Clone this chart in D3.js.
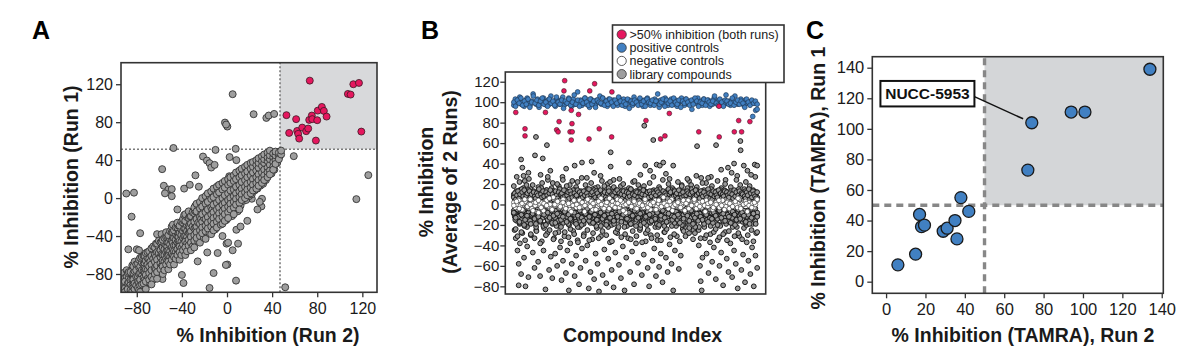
<!DOCTYPE html>
<html>
<head>
<meta charset="utf-8">
<script src="https://cdn.jsdelivr.net/npm/d3@7"></script>
<style>
body { margin: 0; background: #fff; }
svg { display: block; font-family: Arial, "Liberation Sans", Helvetica, sans-serif; }
</style>
</head>
<body>
<svg id="fig" width="1200" height="354"></svg>
<script>
// ---------- panel A: run 1 vs run 2 ----------
const aTicks = [-80, -40, 0, 40, 80, 120];
const aCutX = 47, aCutY = 51.5;
const aHits = [[52.7,87.4],[73.4,123.8],[61.3,83.2],[55.1,68.7],[62.2,70.8],[63.1,67.7],[64,62.7],[66.7,74.3],
  [70.2,70.5],[72,73.3],[72.9,82.4],[75.2,87],[75.6,83.2],[78.8,60.6],[80,82.1],[80.5,92.2],[84.1,96.1],
  [85.9,91.9],[88.3,85.9],[107.2,109.8],[109.6,109.1],[112,120],[117,121.4],[119.1,70.1]];
// dense diagonal cloud, one column per entry: [run2, run1 values...]
const aBand = [
  [-92,-86,-95,-79],[-89,-91,-83,-97,-76],[-87,-84,-89,-94,-78],[-84,-80,-93,-86,-71,-98],
  [-82,-85,-77,-90,-67,-96],[-79,-74,-83,-88,-69,-95],[-77,-79,-72,-86,-63,-92,-99],[-74,-70,-77,-84,-61,-90],
  [-72,-75,-66,-81,-58,-88,-96],[-69,-64,-72,-79,-56,-86],[-67,-70,-61,-76,-53,-83,-91],[-64,-60,-67,-74,-52,-80],
  [-62,-65,-57,-71,-48,-78,-85],[-59,-55,-62,-69,-47,-75],[-57,-60,-52,-66,-44,-72,-80],[-54,-50,-57,-64,-41,-70,-36],
  [-52,-55,-47,-61,-39,-67,-75],[-49,-45,-52,-59,-36,-65,-30],[-47,-50,-42,-56,-34,-62,-70],[-44,-40,-47,-54,-31,-60,-26],
  [-42,-45,-37,-51,-29,-57,-65],[-39,-35,-42,-49,-26,-55,-22],[-37,-40,-32,-46,-24,-52,-60,-17],[-34,-30,-37,-44,-21,-50,-14],
  [-32,-35,-27,-41,-19,-47,-55],[-29,-25,-32,-39,-16,-45,-10,-52],[-27,-30,-22,-36,-14,-42,-6],[-24,-20,-27,-34,-11,-40,-47,-4],
  [-22,-25,-17,-31,-9,-37,0],[-19,-15,-22,-29,-6,-35,-43,2],[-17,-20,-12,-26,-4,-32,5],[-14,-10,-17,-24,-1,-30,-38,7],
  [-12,-15,-7,-21,1,-27,10,-34],[-9,-5,-12,-19,4,-25,-31,12],[-7,-10,-2,-16,6,-22,14],[-4,0,-7,-14,9,-20,-27,16],
  [-2,-5,3,-11,11,-17,18,-24],[1,5,-2,-9,14,-15,-21,20],[3,0,8,-6,16,-12,22],[6,9,2,-4,18,-10,24,-17],
  [8,5,12,-1,20,-7,27],[11,14,7,1,22,-5,29,-12],[13,10,17,4,24,-2,31],[16,19,12,6,26,0,33],
  [18,15,22,9,28,3,35],[21,24,17,11,31,5,37],[23,20,27,14,33,8,38],[26,29,22,16,35,10,40],
  [28,25,32,19,37,13,42],[31,34,27,21,39,16,44],[33,30,37,24,41,19,46],[36,39,32,27,43,22,48],
  [38,35,41,29,45,25,50],[41,43,38,33,47,30],[43,40,45,36,49],[46,44,48,41],[48,46,50]
];
const aBand2 = [
  [-93,-97,-88,-91],[-90.5,-84,-95,-99,-88],[-88,-90,-79,-96],[-85.5,-91,-78,-86,-97],[-83,-79,-94,-86,-72],
  [-80.5,-83,-70,-92,-76],[-78,-73,-89,-80,-65,-97],[-75.5,-82,-68,-76,-91,-62],[-73,-69,-79,-86,-61,-74],
  [-70.5,-76,-63,-85,-70,-57],[-68,-61,-74,-81,-67,-90],[-65.5,-70,-57,-78,-64,-51,-86],[-63,-56,-68,-62,-75,-48],
  [-60.5,-64,-52,-71,-58,-80,-45],[-58,-53,-65,-59,-72,-46,-38],[-55.5,-60,-48,-67,-54,-42,-76],[-53,-47,-61,-55,-66,-40,-51],
  [-50.5,-56,-43,-62,-49,-35,-70],[-48,-42,-54,-47,-61,-36,-28],[-45.5,-50,-38,-57,-44,-31,-64],[-43,-37,-51,-45,-58,-29,-41],
  [-40.5,-46,-33,-53,-39,-25,-60],[-38,-32,-47,-40,-54,-24,-18],[-35.5,-41,-29,-48,-35,-20,-56],[-33,-27,-42,-36,-49,-19,-31],
  [-30.5,-37,-24,-44,-30,-15,-51],[-28,-22,-38,-31,-45,-14,-8],[-25.5,-32,-19,-39,-26,-11,-46],[-23,-17,-33,-27,-40,-9,-22],
  [-20.5,-28,-14,-35,-21,-6,-42],[-18,-12,-28,-22,-36,-4,3],[-15.5,-23,-9,-30,-17,-1,-37],[-13,-7,-24,-18,-31,1,-12],
  [-10.5,-19,-4,-26,-12,4,-33],[-8,-2,-19,-13,-27,7,13],[-5.5,-14,1,-21,-8,9,-28],[-3,3,-15,-9,-22,12,-4],
  [-0.5,-9,6,-17,-3,14,-23],[2,8,-10,-4,-18,17,23],[4.5,-4,11,-12,2,19,-19],[7,13,-5,1,-13,21,6],
  [9.5,1,16,-8,7,24,-14],[12,18,0,6,-8,26,11],[14.5,6,21,-3,12,28],[17,23,5,11,-2,30,16],
  [19.5,11,26,2,17,33],[22,28,10,16,4,35,21],[24.5,16,31,8,22,37],[27,33,15,21,10,39,26],
  [29.5,21,36,13,27,41],[32,37,20,26,15,43,31],[34.5,26,40,19,32,45],[37,42,25,31,46,36],
  [39.5,31,44,26,38,48],[42,46,30,36,41],[44.5,37,48,42],[46.5,44,49]
];
const aScatter = [[5,109.5],[23.6,88.4],[34.9,84.5],[37,87],[41.8,88.7],[-1.8,79.6],[0.3,75.4],[-0.8,77.5],
  [-47.5,52.8],[-10.2,50.8],[7.7,51.9],[59.2,44.2],[125.3,24.2],[114.7,-1.1],[-89.3,4.8],[-82.5,5.7],
  [-84.6,-19.6],[-77,-37],[-87.5,-54],[-80,-54],[-78,-55],[-89.8,-84.3],[-57.5,30.5],[-21.3,43.8],
  [-17.8,39.6],[-15.5,36.8],[-14,32.2],[-11,35],[2.3,43.2],[8.3,40],[-56,13],[-52,9],[-49,9.5],
  [-49,2],[-55,5],[22,-0.7],[31,-0.7],[30.5,-8.8],[29,-4],[-17.5,-57.3],[-8.3,-57.9],[-26,-66.7],
  [-11.9,-79],[0.3,-70],[-1,-70.5],[8,-87],[-15.5,-94.7],[-40,-81],[-38.6,-89.5],[-57.2,-85.3],
  [51.6,-94],[8.3,-33.4],[9.8,-48],[-0.4,-48],[1,-47],[-44,-12],[-38,10],[-33,14],[18,-24],[12,-30],
  [-4,-40],[-62,-38],[-25,12],[5,-55],[27,-12],[14,30],[-28,24]];

// ---------- panel B: compound index ----------
const bTicks = [-80, -60, -40, -20, 0, 20, 40, 60, 80, 100, 120];
const bLegend = [">50% inhibition (both runs)", "positive controls", "negative controls", "library compounds"];
const bPositive = [97,103,99,101,105,98,100,96,102,104,99,97,101,108,100,98,103,95,101,99,104,100,97,102,98,106,
  99,101,96,103,100,98,102,105,97,100,99,104,101,96,103,98,100,110,99,102,97,101,104,98,100,95,103,99,101,97,
  102,100,106,98,104,99,101,96,103,100,98,102,99,101,97,104,100,98,103,96,101,99,102,100,97,105,99,101,98,103,
  100,96,102,99,104,101,97,100,98,103,99,101,95,102,100,98,104,99,97,101,103,100,98,102,96,99,101,104,100,97,
  103,99,98,101,93,102,100,99,104,98,101,97,103,100,99,102,96,101,98,104,100,99,102,97,101,100,98,107,99,101,
  97,102,100,106,99,98,101,103,100,97,102,99,100,98,101,86,99,92,93];
const bPositive2 = [100,96,102,99,104,97,101,98,103,95,100,106,99,102,97,101,104,98,100,96,103,99,101,97,105,100,
  98,102,94,101,99,103,97,100,107,98,102,96,101,99,104,100,97,103,98,101,95,102,100,99,104,97,101,98,103,100,96,
  102,99,105,101,97,100,98,103,94,101,99,102,100,97,104,98,101,96,103,100,99,102,97,101,108,98,100,103,96,102,
  99,101,97,104,100,98,102,95,101,99,103,100,97,102,98,104,101,96,100,99,103,97,102,100,98,101,106,99,97,103,
  100,96,102,101,98,99,104,97,100,102,98,101,99,95,103,100,97,102,99,101,98];
const bNegative = [2,-3,0,4,-1,-5,1,3,-2,0,5,-4,1,-1,3,-8,0,2,-6,1,4,-2,0,-4,7,-1,3,0,-3,1,5,-2,0,2,-5,1,-1,3,
  -3,0,4,-2,1,-7,2,0,-1,3,-5,1,2,-2,0,6,-3,1,-1,2,-4,0,3,-2,1,5,-3,0,2,-1,-8,1,3,0,-2,4,-4,1,-1,2,0,-3,3,-1,1,
  -5,2,0,4,-2,1,-3,0,7,-1,2,-4,0,5,-2,1,-1,3,-3,0,2,-6,1,4,-2,0,-1,3,-4,1,2,-3,0,-1,4,-2,1,3,-5,0,2,-1,-3,1,
  4,0,-2,3,-4,1,-1,2,0,-3,5,-2,1,0,3,-7,2,-1,1,-3,0,4];
const bNegative2 = [-1,3,-4,1,5,-2,0,-6,2,4,-3,1,-1,6,-5,0,3,-2,2,-4,1,-7,4,0,-3,2,-1,5,-2,1,-5,3,0,-4,2,6,-1,
  -3,1,4,-6,0,2,-2,3,-4,1,-1,5,-3,0,2,-5,4,-2,1,-1,3,-6,0,2,-3,4,1,-4,-1,5,0,-2,3,-7,1,2,-3,0,4,-1,-5,2,1,-2,
  3,6,-4,0,1,-1,-3,2,5];
const bLibUpper = [8,5,12,7,10,4,14,9,6,11,3,8,13,7,10,5,9,15,6,12,8,4,11,7,9,13,5,10,8,6,12,3,9,14,7,11,5,8,
  10,6,13,9,4,12,7,10,8,15,5,11,9,6,13,7,10,4,8,12,6,9,11,5,14,8,7,10,12,4,9,6,11,8,13,5,10,7,9,12,6,8,15,4,
  11,10,7,9,13,5,8,12,6,10,3,9,11,7,14,8,5,12,10,6,9,13,7,4,11,8,10,6,12,9,5,14,7,11,8,10,4,13,6,9,12,7,10,5,
  8,11,15,6,9,7,13,10,4,12,8,6,11,9,5,10,14,7,8,12,6,9,11,4,13,8,10,7,5,12,9,6,11,8,14,10,7,4,9,12,6,11,8,13,
  5,10,7,9,12,4,8,11,6,10,15,7,9,13,5,8,12,10,6,11,4,9,7,14,8,10,12,5,9,6,13,11,7,8,10,4,12,9,6,11,14,8,7,10,
  5,13,9,12,6,8,11,7,10,4,9,13,6,12,8,5,11,10,7,9,15,6,12,8,4,11,10,7,13,9,5,8,12,6];
const bLibUpper2 = [10,6,13,8,4,11,15,7,9,12,5,14,8,10,6,13,3,9,11,7,12,16,5,10,8,14,6,11,9,4,13,7,10,12,5,15,
  8,6,11,9,13,4,10,7,12,14,6,9,11,5,8,13,10,3,12,7,15,9,6,11,8,14,5,10,12,7,9,4,13,11,6,8,16,10,5,12,9,7,14,6,
  11,8,13,4,10,9,12,5,7,15,11,6,10,8,13,4,12,9,7,14,5,11,10,6,8,13,9,3,12,7,10,15,6,11,8,5,13,9,12,4,10,7,14,
  11,6,8,12,9,5,13,10,7,16,6,11,8,4,12,9,14,5,10,7,13,11,6,8,12,3,9,15,10,7,5,13,11,8,6,12,9,14,4,10,7,11,13,5,
  8,12,6,9,15,10,4,11,7,13,8,6,12,9,5,14,10,11,7];
const bLibUpper3 = [7,11,5,9,13,6,10,4,12,8,14,6,9,11,5,13,7,10,3,12,8,6,11,9,15,5,10,7,13,8,4,12,9,6,11,14,7,
  10,5,8,13,9,6,12,4,10,11,7,14,8,5,9,12,6,13,10,7,3,11,8,9,14,5,12,6,10,7,13,9,4,11,8,15,6,10,12,5,9,7,13,11,
  6,8,14,4,10,9,12,7,5,11,13,8,6,10,9,3,12,7,14,5,11,8,10,6,13,9,4,12,7,11,8,15,5,10,6,9,13,12,7,4,11,8,10,14,
  6,9,5,12,7,13,10,8,3,11,6,9,14,12,5,10,7,8,13,4,11,9,6,15,10,12,7,5,8,13,9,11,6,14,4,10,7,12,8,5,9,13,11,6,
  10,3,12,8,7,14,9,5,11,6,13,10,8,12,4,9,7,15,11,6,10,5,13,8,12,9,7,14,4,11,6,10,8,13,5,12,9,7,11,3,10,6,14,8,
  12,5,9,13,7,11,10,4,8,6,12,9,15,5,11,7,13,10,8,6,12];
const bLibLower = [-6,-12,-9,-16,-4,-11,-19,-8,-14,-5,-10,-21,-7,-13,-17,-9,-4,-15,-11,-6,-18,-8,-12,-22,-5,
  -14,-10,-16,-7,-3,-13,-20,-9,-11,-6,-17,-8,-15,-12,-4,-19,-10,-7,-14,-21,-6,-11,-9,-16,-5,-13,-18,-8,-12,-4,
  -15,-10,-20,-7,-14,-9,-6,-17,-11,-13,-5,-22,-8,-16,-10,-12,-4,-19,-7,-14,-9,-15,-6,-11,-18,-8,-13,-5,-17,
  -10,-21,-7,-12,-9,-16,-4,-14,-11,-6,-19,-8,-13,-10,-15,-5,-12,-20,-7,-17,-9,-11,-6,-14,-22,-8,-13,-4,-16,
  -10,-12,-18,-7,-15,-9,-5,-11,-19,-6,-14,-8,-13,-21,-10,-4,-16,-12,-7,-17,-9,-15,-11,-5,-20,-8,-13,-6,-18,
  -10,-14,-12,-4,-16,-9,-7,-22,-11,-15,-5,-13,-19,-8,-10,-6,-17,-12,-14,-9,-4,-21,-7,-16,-11,-13,-5,-18,-8,
  -15,-10,-6,-12,-20,-9,-14,-4,-17,-11,-7,-13,-16,-5,-10,-19,-8,-12,-15,-6,-22,-9,-14,-11,-4,-18,-7,-13,-10,
  -16,-5,-12,-21,-8,-15,-9,-6,-17,-11,-14,-4,-20,-10,-7,-13,-16,-12,-5,-19,-8,-15,-9,-11,-6,-18,-14,-10,-4,
  -13,-22,-7,-16,-12,-9,-5,-17,-11,-15,-8,-20,-6,-13,-10,-14,-4,-19,-12,-7,-16,-9,-11];
const bLibLower2 = [-9,-15,-5,-12,-18,-7,-11,-20,-4,-14,-8,-16,-10,-6,-13,-19,-5,-11,-17,-9,-21,-7,-12,-15,-4,
  -10,-18,-8,-13,-6,-16,-11,-22,-5,-14,-9,-12,-19,-7,-15,-4,-10,-17,-8,-13,-6,-20,-11,-9,-14,-5,-16,-12,-7,-18,
  -10,-4,-15,-8,-21,-13,-6,-11,-17,-9,-5,-14,-12,-19,-7,-10,-16,-4,-13,-8,-22,-11,-6,-15,-9,-18,-12,-5,-14,-7,
  -10,-20,-8,-16,-13,-4,-11,-17,-6,-9,-15,-12,-19,-5,-10,-14,-7,-21,-8,-13,-16,-4,-11,-6,-18,-9,-15,-12,-5,-20,
  -10,-7,-14,-8,-17,-13,-4,-11,-22,-6,-16,-9,-12,-5,-19,-10,-15,-7,-13,-8,-18,-4,-11,-14,-6,-21,-9,-16,-12,-5,
  -10,-17,-7,-13,-8,-20,-15,-4,-11,-9,-14,-6,-18,-12,-10,-16,-5,-13,-7,-19,-8];
const bLibLower3 = [-8,-13,-5,-17,-10,-6,-15,-11,-4,-19,-9,-14,-7,-12,-16,-5,-10,-20,-8,-13,-6,-11,-18,-9,-4,
  -15,-12,-7,-17,-10,-14,-5,-8,-19,-11,-6,-13,-16,-9,-4,-12,-7,-18,-10,-15,-5,-8,-14,-11,-20,-6,-13,-9,-16,-4,
  -12,-7,-17,-10,-5,-14,-8,-19,-11,-6,-15,-13,-9,-4,-18,-12,-7,-10,-16,-5,-14,-8,-20,-11,-6,-13,-17,-9,-4,-15,
  -12,-7,-10,-18,-5,-14,-8,-11,-16,-6,-19,-13,-9,-4,-12,-15,-7,-10,-17,-5,-14,-8,-11,-20,-6,-13,-9,-16,-4,-12,
  -18,-7,-10,-15,-5,-14,-8,-11,-17,-6,-19,-13,-9,-4,-12];
const bLibNear = [18,-24,-31,22,-27,16,-35,-22,25,-29,19,-33,-26,17,-38,21,-23,-30,27,-25,16,-34,-28,20,-21,-36,
  24,-27,18,-32,-24,23,-29,17,-37,-22,26,-31,19,-25,-35,21,-28,16,-23,-33,28,-26,18,-30,-22,22,-36,17,-27,-24,
  25,-32,20,-29,-21,16,-34,-26,23,-31,19,-23,-37,18,-28,-25,21,-33,27,-22,-30,17,-35,24,-27,-24,20,-32,16,-29,
  -21,22,-36,18,-26,-31,25,-23,19,-34,-28,17,-25,-33,21,-22,-30,26,-37,18,-27,-24,23,-32,16,-29,20,-35,-26,17,
  -22,-31,24,-28,19,-34,-23,22,-30,18,-25,-36,27,-27];
// sparse library compounds: [index, % inhibition]
const bLibScatter = [[12,27],[30,44],[35,36],[40,28],[45,23],[52,19],[60,31],[87,48],[91,66],[110,29],[119,45],
  [136,58],[140,24],[150,33],[160,21],[185,18],[200,27],[215,35],[230,19],[250,38],[262,22],[280,41],[300,26],
  [320,42],[330,31],[345,17],[362,23],[385,20],[398,37],[398,51],[410,24],[440,18],[473,41],[490,22],[520,29],
  [536,77],[540,38],[560,33],[573,63],[587,39],[600,38],[614,41],[625,30],[640,25],[655,38],[690,19],[720,23],
  [750,28],[753,57],[770,26],[790,21],[810,27],[831,58],[852,34],[870,24],[880,36],[895,31],[905,40],[918,28],
  [931,62],[932,53],[945,38],[960,33],[975,29],[990,39],[1000,38],
  [3,-25],[8,-33],[15,-45],[20,-58],[25,-38],[30,-68],[35,-28],[42,-52],[48,-80],[55,-41],[60,-71],[20,-79],
  [70,-30],[78,-47],[85,-62],[92,-25],[100,-56],[108,-70],[115,-36],[122,-45],[130,-83],[138,-28],[145,-64],
  [152,-51],[158,-72],[165,-33],[170,-48],[178,-60],[184,-27],[190,-42],[196,-74],[202,-55],[208,-31],[214,-67],
  [220,-45],[226,-84],[232,-38],[238,-58],[244,-26],[250,-70],[256,-50],[262,-35],[268,-78],[274,-62],[280,-43],
  [288,-29],[295,-55],[302,-40],[308,-82],[315,-66],[322,-34],[330,-73],[336,-48],[344,-58],[350,-85],[358,-31],
  [365,-69],[372,-44],[380,-77],[388,-53],[395,-37],[402,-64],[410,-81],[417,-47],[425,-28],[432,-59],[440,-72],
  [448,-41],[455,-84],[462,-52],[470,-33],[478,-66],[486,-46],[494,-78],[502,-38],[510,-57],[518,-25],[526,-69],
  [534,-49],[542,-36],[550,-62],[556,-80],[563,-30],[570,-55],[577,-43],[584,-70],[590,-35],[597,-61],[604,-48],
  [611,-76],[618,-27],[625,-52],[632,-66],[640,-39],[648,-58],[655,-84],[662,-45],[670,-31],[678,-63],[686,-50],
  [694,-24],[705,-22],[720,-28],[738,-25],[760,-40],[765,-60],[768,-75],[772,-84],[775,-52],[785,-33],[792,-48],
  [800,-67],[808,-29],[815,-56],[822,-42],[830,-73],[838,-35],[845,-60],[852,-47],[860,-79],[868,-27],[875,-53],
  [882,-66],[890,-38],[897,-71],[905,-45],[912,-58],[920,-82],[927,-31],[935,-64],[942,-49],[950,-76],[957,-37],
  [964,-55],[972,-68],[979,-42],[986,-80],[993,-50],[1000,-62],[996,-28]];
const bHits = [[8,90],[46,74],[46,67],[130,90],[176,73],[182,71],[186,81],[206,111],[209,121],[236,92],[239,79],
  [231,71],[240,71],[236,63],[266,88],[309,64],[312,111],[332,118],[351,74],[402,66],[403,110],[543,82],[603,64],
  [621,67],[639,89],[760,71],[843,96],[844,66],[906,71],[924,82],[936,71],[970,81]];

// ---------- panel C: TAMRA ----------
const cTicks = [0, 20, 40, 60, 80, 100, 120, 140];
const cRun2 = [6, 15, 17, 18, 19.5, 29, 31, 35, 36, 38, 42, 72, 74, 94, 101, 134];
const cRun1 = [11, 18, 44, 36, 37, 33, 35, 40, 28, 55, 46, 73, 104, 111, 111, 139];
const cCut = 50;
const cLabel = "NUCC-5953", cLabelIdx = 12;

const pink = "#e5175e", blue = "#4180c2", grey = "#9e9e9e", shade = "#d8d9db";
const svg = d3.select("#fig");

function frameAxes(g, x, y, xt, yt, fs, pad) {
  const [x0, x1] = x.range(), [y0, y1] = y.range();
  if (xt) {
    g.append("g").attr("transform", "translate(0," + y0 + ")")
      .call(d3.axisBottom(x).tickValues(xt).tickSize(5).tickSizeOuter(0).tickPadding(pad))
      .call(a => a.select(".domain").remove())
      .attr("font-family", null).attr("font-size", fs);
  }
  g.append("g").attr("transform", "translate(" + x0 + ",0)")
    .call(d3.axisLeft(y).tickValues(yt).tickSize(5).tickSizeOuter(0).tickPadding(pad === 5 ? 3 : pad))
    .call(a => a.select(".domain").remove())
    .attr("font-family", null).attr("font-size", fs);
  g.selectAll(".tick line").attr("stroke", "#333").attr("stroke-width", 1.3);
  g.selectAll(".tick text").attr("fill", "#1a1a1a");
  g.append("rect").attr("x", x0).attr("y", y1).attr("width", x1 - x0).attr("height", y0 - y1)
    .attr("fill", "none").attr("stroke", "#333").attr("stroke-width", 1.6);
}

function clip(id, x, y) {
  const [x0, x1] = x.range(), [y0, y1] = y.range();
  svg.append("clipPath").attr("id", id).append("rect")
    .attr("x", x0).attr("y", y1).attr("width", x1 - x0).attr("height", y0 - y1);
}

function dots(g, data, x, y, r, fill, stroke, sw) {
  g.append("g").selectAll("circle").data(data).join("circle")
    .attr("cx", d => x(d[0])).attr("cy", d => y(d[1])).attr("r", r)
    .attr("fill", fill).attr("stroke", stroke).attr("stroke-width", sw);
}

function title(text, x, y, rot) {
  svg.append("text").attr("transform", "translate(" + x + "," + y + ")" + (rot ? " rotate(-90)" : ""))
    .attr("text-anchor", "middle").attr("font-weight", "bold").attr("font-size", 19.5)
    .attr("fill", "#1a1a1a").text(text);
}

function panelLetter(t, x) {
  svg.append("text").attr("x", x).attr("y", 39).attr("font-size", 25).attr("font-weight", "bold").text(t);
}

// ===== A =====
const ax = d3.scaleLinear().domain([-94, 133]).range([121, 377]);
const ay = d3.scaleLinear().domain([-99.3, 142.7]).range([292.3, 62.7]);
clip("clipA", ax, ay);
const gA = svg.append("g");
const pA = gA.append("g").attr("clip-path", "url(#clipA)");
pA.append("rect").attr("x", ax(aCutX)).attr("y", ay.range()[1])
  .attr("width", ax.range()[1] - ax(aCutX)).attr("height", ay(aCutY) - ay.range()[1]).attr("fill", shade);
pA.append("line").attr("x1", ax(aCutX)).attr("x2", ax(aCutX)).attr("y1", ay.range()[0]).attr("y2", ay.range()[1])
  .attr("stroke", "#7a7a7a").attr("stroke-width", 1.6).attr("stroke-dasharray", "2,2");
pA.append("line").attr("x1", ax.range()[0]).attr("x2", ax.range()[1]).attr("y1", ay(aCutY)).attr("y2", ay(aCutY))
  .attr("stroke", "#7a7a7a").attr("stroke-width", 1.6).attr("stroke-dasharray", "2,2");
const cols = arr => arr.flatMap(c => c.slice(1).map(v => [c[0], v]));
// interleave the two column sets so neither sits fully on top
const band1 = cols(aBand), band2 = cols(aBand2);
const aCloud = [];
for (let i = 0; i < Math.max(band1.length, band2.length); i++) {
  if (band1[i]) aCloud.push(band1[i]);
  if (band2[i]) aCloud.push(band2[i]);
}
dots(pA, aScatter, ax, ay, 3.5, grey, "#333", 0.9);
dots(pA, aCloud, ax, ay, 3.5, grey, "#333", 0.9);
dots(pA, aHits, ax, ay, 3.5, pink, "#3a1a24", 0.8);
frameAxes(gA, ax, ay, aTicks, aTicks, 16, 5);
title("% Inhibition (Run 2)", 268, 342, false);
title("% Inhibition (Run 1)", 77.5, 177, true);
panelLetter("A", 32);

// ===== B =====
const bx = d3.scaleLinear().domain([-35, 1035]).range([505.3, 765.7]);
const by = d3.scaleLinear().domain([-87.5, 129.5]).range([294, 72]);
clip("clipB", bx, by);
const gB = svg.append("g");
const pB = gB.append("g").attr("clip-path", "url(#clipB)");
const spread = arr => arr.map((v, i) => [i / (arr.length - 1) * 1000, v]);
const bGrey = "#9a9a9a", bEdge = "#1a1a1a", br = 2.4;
[bLibScatter, spread(bLibNear), spread(bLibLower), spread(bLibLower2), spread(bLibLower3),
 spread(bLibUpper), spread(bLibUpper2), spread(bLibUpper3)]
  .forEach(s => dots(pB, s, bx, by, br, bGrey, bEdge, 1));
dots(pB, spread(bNegative), bx, by, 2.3, "#fff", "#444", 0.7);
dots(pB, spread(bNegative2), bx, by, 2.3, "#fff", "#444", 0.7);
dots(pB, spread(bPositive), bx, by, br, blue, "#1f3b5a", 0.7);
dots(pB, spread(bPositive2), bx, by, br, blue, "#1f3b5a", 0.7);
dots(pB, bHits, bx, by, br, pink, "#3a1a24", 0.6);
frameAxes(gB, bx, by, null, bTicks, 15, 1);
title("% Inhibition", 432.5, 182, true);
title("(Average of 2 Runs)", 456.5, 182, true);
title("Compound Index", 642.5, 342, false);
panelLetter("B", 421);

// legend
const lg = svg.append("g");
lg.append("rect").attr("x", 612.5).attr("y", 25).attr("width", 171.5).attr("height", 57.5)
  .attr("fill", "#fff").attr("stroke", "#333").attr("stroke-width", 1.6);
const legFill = [pink, blue, "#fff", grey];
bLegend.forEach((t, i) => {
  const yy = 34.5 + i * 13.2;
  lg.append("circle").attr("cx", 621.7).attr("cy", yy).attr("r", 4.6)
    .attr("fill", legFill[i]).attr("stroke", "#333").attr("stroke-width", 0.8);
  lg.append("text").attr("x", 629.5).attr("y", yy).attr("dy", "0.36em")
    .attr("font-size", 12.5).attr("fill", "#1a1a1a").text(t);
});

// ===== C =====
const cx = d3.scaleLinear().domain([-7, 140.8]).range([872.3, 1163.3]);
const cy = d3.scaleLinear().domain([-7.6, 147.2]).range([293.3, 56.7]);
const gC = svg.append("g");
gC.append("rect").attr("x", cx(cCut)).attr("y", cy.range()[1])
  .attr("width", cx.range()[1] - cx(cCut)).attr("height", cy(cCut) - cy.range()[1]).attr("fill", "#d4d6d8");
gC.append("line").attr("x1", cx(cCut)).attr("x2", cx(cCut)).attr("y1", cy.range()[0]).attr("y2", cy.range()[1])
  .attr("stroke", "#878787").attr("stroke-width", 3.4).attr("stroke-dasharray", "7,5");
gC.append("line").attr("x1", cx.range()[0]).attr("x2", cx.range()[1]).attr("y1", cy(cCut)).attr("y2", cy(cCut))
  .attr("stroke", "#878787").attr("stroke-width", 3.4).attr("stroke-dasharray", "7,5");
// annotation
const lx = cx(21), ly = cy(123);
const px = cx(cRun2[cLabelIdx]), py = cy(cRun1[cLabelIdx]);
const boxW = 94, boxH = 25.5;
const ang = Math.atan2(py - (ly + 3), px - (lx + boxW / 2));
gC.append("line").attr("x1", lx + boxW / 2).attr("y1", ly + 3)
  .attr("x2", px - Math.cos(ang) * 9.5).attr("y2", py - Math.sin(ang) * 9.5)
  .attr("stroke", "#111").attr("stroke-width", 1.5);
gC.append("rect").attr("x", lx - boxW / 2).attr("y", ly - boxH / 2).attr("width", boxW).attr("height", boxH)
  .attr("fill", "#fff").attr("stroke", "#111").attr("stroke-width", 2);
gC.append("text").attr("x", lx).attr("y", ly).attr("dy", "0.36em").attr("text-anchor", "middle")
  .attr("font-size", 15.5).attr("font-weight", "bold").attr("fill", "#111").text(cLabel);
dots(gC, cRun2.map((v, i) => [v, cRun1[i]]), cx, cy, 6, blue, "#1a1a1a", 1.3);
frameAxes(gC, cx, cy, cTicks, cTicks, 16.5, 5);
title("% Inhibition (TAMRA), Run 2", 1023, 342, false);
title("% Inhibition (TAMRA), Run 1", 825, 178, true);
panelLetter("C", 806);
</script>
</body>
</html>
